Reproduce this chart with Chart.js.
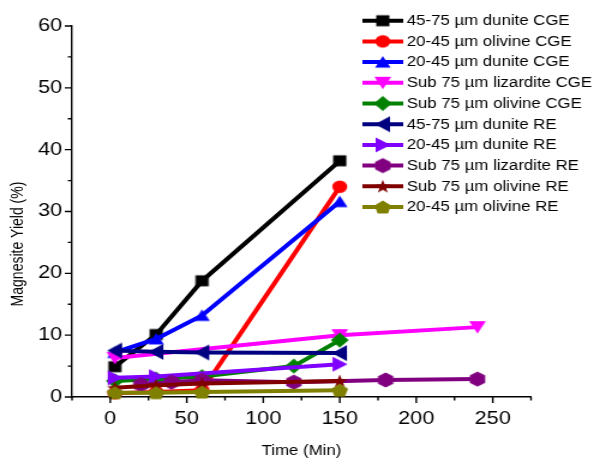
<!DOCTYPE html>
<html>
<head>
<meta charset="utf-8">
<script src="https://cdn.jsdelivr.net/npm/chart.js@4.4.0/dist/chart.umd.min.js"></script>
<style>
  html, body { margin: 0; padding: 0; background: #fff; overflow: hidden; }
  /* the figure is laid out narrow and widened 1.2x, like the original export */
  #wrap { width: 495px; height: 460px; transform: scaleX(1.2); transform-origin: 0 0; }
</style>
</head>
<body>
<div id="wrap"><canvas id="c" width="495" height="460"></canvas></div>
<script>
// ---- series names, colours and marker shapes ----
const seriesNames = [
  '45-75 µm dunite CGE',
  '20-45 µm olivine CGE',
  '20-45 µm dunite CGE',
  'Sub 75 µm lizardite CGE',
  'Sub 75 µm olivine CGE',
  '45-75 µm dunite RE',
  '20-45 µm dunite RE',
  'Sub 75 µm lizardite RE',
  'Sub 75 µm olivine RE',
  '20-45 µm olivine RE'
];
const seriesColors = ['#000000', '#FF0000', '#0000FF', '#FF00FF', '#008000',
                      '#000080', '#8000FF', '#800080', '#800000', '#808000'];
const seriesMarkers = ['square', 'circle', 'triUp', 'triDown', 'diamond',
                       'triLeft', 'triRight', 'hexagon', 'star', 'pentagon'];

// ---- reaction time (min) and magnesite yield (%) per series ----
const time45DuniteCGE    = [3, 30, 60, 150];
const yield45DuniteCGE   = [4.9, 10.1, 18.8, 38.2];
const time20OlivineCGE   = [3, 30, 60, 150];
const yield20OlivineCGE  = [0.6, 0.8, 1.1, 34.0];
const time20DuniteCGE    = [3, 30, 60, 150];
const yield20DuniteCGE   = [7.2, 9.4, 13.2, 31.6];
const timeLizarditeCGE   = [3, 150, 240];
const yieldLizarditeCGE  = [6.3, 10.0, 11.3];
const timeOlivineCGE     = [3, 30, 60, 120, 150];
const yieldOlivineCGE    = [2.6, 2.9, 3.3, 5.0, 9.2];
const time45DuniteRE     = [3, 30, 60, 150];
const yield45DuniteRE    = [7.5, 7.3, 7.2, 7.1];
const time20DuniteRE     = [3, 30, 150];
const yield20DuniteRE    = [3.1, 3.3, 5.3];
const timeLizarditeRE    = [20, 40, 60, 120, 180, 240];
const yieldLizarditeRE   = [2.0, 2.4, 2.7, 2.4, 2.75, 2.9];
const timeOlivineRE      = [3, 30, 60, 150];
const yieldOlivineRE     = [1.5, 1.9, 2.2, 2.6];
const time20OlivineRE    = [3, 30, 60, 150];
const yield20OlivineRE   = [0.7, 0.7, 0.8, 1.1];

// ---- axis ticks ----
const xTickValues  = [0, 50, 100, 150, 200, 250];
const xMinorTicks  = [-25, 25, 75, 125, 175, 225, 275];
const yTickValues  = [0, 10, 20, 30, 40, 50, 60];
const yMinorTicks  = [5, 15, 25, 35, 45, 55];

const seriesTimes  = [time45DuniteCGE, time20OlivineCGE, time20DuniteCGE, timeLizarditeCGE,
                      timeOlivineCGE, time45DuniteRE, time20DuniteRE, timeLizarditeRE,
                      timeOlivineRE, time20OlivineRE];
const seriesYields = [yield45DuniteCGE, yield20OlivineCGE, yield20DuniteCGE, yieldLizarditeCGE,
                      yieldOlivineCGE, yield45DuniteRE, yield20DuniteRE, yieldLizarditeRE,
                      yieldOlivineRE, yield20OlivineRE];

// ---- marker sprites (filled symbols) ----
function markerPath(g, shape) {
  g.beginPath();
  const poly = pts => { g.moveTo(pts[0][0], pts[0][1]); for (let k = 1; k < pts.length; k++) g.lineTo(pts[k][0], pts[k][1]); g.closePath(); };
  switch (shape) {
    case 'square':  g.rect(-5.5, -5.5, 11, 11); break;
    case 'circle':  g.arc(0, 0, 6.2, 0, Math.PI * 2); break;
    case 'triUp':   poly([[0, -6], [6.5, 5.5], [-6.5, 5.5]]); break;
    case 'triDown': poly([[0, 6.5], [7, -6], [-7, -6]]); break;
    case 'triLeft': poly([[-6.5, 0], [6, -8], [6, 8]]); break;
    case 'triRight':poly([[6.5, 0], [-6, -7.5], [-6, 7.5]]); break;
    case 'diamond': poly([[0, -7.5], [7.5, 0], [0, 7.5], [-7.5, 0]]); break;
    case 'hexagon': {
      const p = []; for (let k = 0; k < 6; k++) { const a = -Math.PI / 2 + k * Math.PI / 3; p.push([7.4 * Math.cos(a), 7.6 * Math.sin(a)]); }
      poly(p); break;
    }
    case 'pentagon': {
      const p = []; for (let k = 0; k < 5; k++) { const a = -Math.PI / 2 + k * 2 * Math.PI / 5; p.push([7.3 * Math.cos(a), 7.3 * Math.sin(a) + 0.7]); }
      poly(p); break;
    }
    case 'star': {
      const p = []; for (let k = 0; k < 10; k++) { const a = -Math.PI / 2 + k * Math.PI / 5; const r = k % 2 ? 2.8 : 7; p.push([r * Math.cos(a), r * Math.sin(a) + 0.6]); }
      poly(p); break;
    }
  }
}
function makeMarker(shape, color) {
  const size = 20;
  const c = document.createElement('canvas');
  c.width = size; c.height = size;
  const g = c.getContext('2d');
  g.translate(size / 2, size / 2);
  g.fillStyle = color;
  markerPath(g, shape);
  g.fill();
  return c;
}
const markerSprites = seriesMarkers.map((m, i) => makeMarker(m, seriesColors[i]));

// ---- datasets ----
const datasets = seriesNames.map((name, i) => ({
  label: name,
  data: seriesTimes[i].map((t, k) => ({ x: t, y: seriesYields[i][k] })),
  borderColor: seriesColors[i],
  backgroundColor: seriesColors[i],
  borderWidth: 4,
  pointStyle: markerSprites[i],
  pointRadius: 7,
  pointHoverRadius: 7,
  tension: 0,
  fill: false,
  clip: false,
  order: -i // later series sit on top
}));

// ---- extra drawing: minor/major tick marks, y title, legend ----
const decor = {
  id: 'decor',
  afterDraw(chart) {
    const { ctx, chartArea: a, scales: { x, y } } = chart;
    ctx.save();
    ctx.strokeStyle = '#000';
    ctx.lineWidth = 1.4;
    ctx.beginPath();
    yTickValues.forEach(v => { const p = y.getPixelForValue(v); ctx.moveTo(a.left - 6, p); ctx.lineTo(a.left, p); });
    yMinorTicks.forEach(v => { const p = y.getPixelForValue(v); ctx.moveTo(a.left - 3.5, p); ctx.lineTo(a.left, p); });
    xTickValues.forEach(v => { const p = x.getPixelForValue(v); ctx.moveTo(p, a.bottom); ctx.lineTo(p, a.bottom + 6); });
    xMinorTicks.forEach(v => { const p = x.getPixelForValue(v); ctx.moveTo(p, a.bottom); ctx.lineTo(p, a.bottom + 3.5); });
    ctx.stroke();

    // y axis title
    ctx.fillStyle = '#000';
    ctx.font = "14px 'Liberation Sans', Arial, sans-serif";
    ctx.textAlign = 'center';
    ctx.textBaseline = 'middle';
    ctx.save();
    ctx.translate(15.3, 244);
    ctx.rotate(-Math.PI / 2);
    ctx.fillText('Magnesite Yield (%)', 0, 0);
    ctx.restore();

    // legend
    ctx.textAlign = 'left';
    chart.data.datasets.forEach((ds, i) => {
      const cy = 20.7 + i * 20.7;
      ctx.strokeStyle = ds.borderColor;
      ctx.lineWidth = 4;
      ctx.beginPath();
      ctx.moveTo(302, cy); ctx.lineTo(336, cy);
      ctx.stroke();
      const s = markerSprites[i];
      ctx.drawImage(s, 319 - s.width / 2, cy - s.height / 2);
      ctx.fillStyle = '#000';
      ctx.fillText(ds.label, 339, cy + 0.5);
    });
    ctx.restore();
  }
};

Chart.defaults.font.family = "'Liberation Sans', Arial, sans-serif";
Chart.defaults.color = '#000';

new Chart(document.getElementById('c'), {
  type: 'line',
  data: { datasets },
  options: {
    responsive: false,
    animation: false,
    devicePixelRatio: 1,
    layout: { padding: { top: 26, right: 52.5, left: 0, bottom: 0 } },
    plugins: { legend: { display: false }, tooltip: { enabled: false } },
    scales: {
      x: {
        type: 'linear',
        min: -25, max: 275,
        afterBuildTicks: s => { s.ticks = xTickValues.map(v => ({ value: v })); },
        afterFit: s => { s.height = 63; },
        grid: { display: false, drawTicks: false },
        border: { display: true, color: '#000', width: 1.4 },
        ticks: { color: '#000', font: { size: 18 }, padding: 11, maxRotation: 0, autoSkip: false },
        title: { display: true, text: 'Time (Min)', color: '#000', font: { size: 14 }, padding: { top: 0, bottom: 0.6 } }
      },
      y: {
        type: 'linear',
        min: 0, max: 60,
        afterBuildTicks: s => { s.ticks = yTickValues.map(v => ({ value: v })); },
        afterFit: s => { s.width = 60; },
        grid: { display: false, drawTicks: false },
        border: { display: true, color: '#000', width: 1.4 },
        ticks: { color: '#000', font: { size: 18 }, padding: 8.3, autoSkip: false }
      }
    }
  },
  plugins: [decor]
});
</script>
</body>
</html>
